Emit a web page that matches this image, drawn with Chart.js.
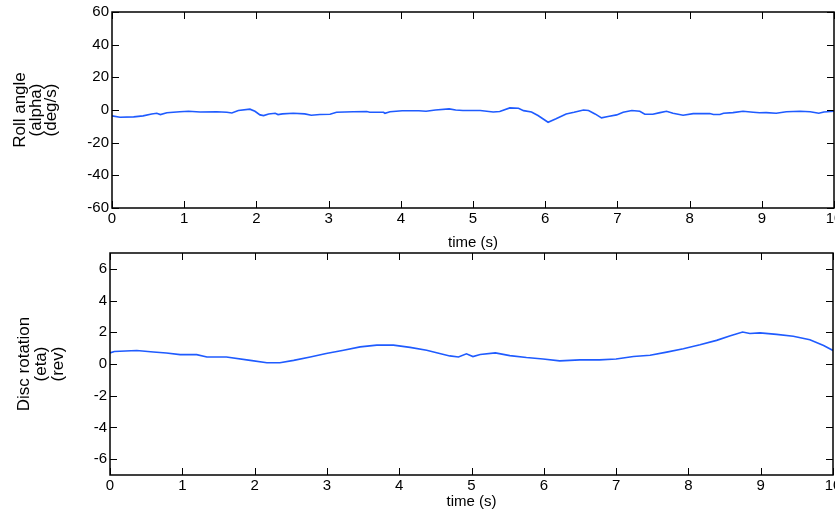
<!DOCTYPE html>
<html>
<head>
<meta charset="utf-8">
<script src="https://cdn.jsdelivr.net/npm/chart.js@4.4.0/dist/chart.umd.min.js"></script>
<style>
  body { margin: 0; background: #fff; }
  #wrap { position: relative; width: 835px; height: 516px; overflow: hidden; }
  .box { position: absolute; left: 0; width: 835px; }
</style>
</head>
<body>
<div id="wrap">
  <div class="box" style="top:0;height:250px"><canvas id="roll"></canvas></div>
  <div class="box" style="top:250px;height:266px"><canvas id="disc"></canvas></div>
</div>
<script>
// MARK: - Data
const timeTicks = [0, 1, 2, 3, 4, 5, 6, 7, 8, 9, 10];

const rollTime = [0.00, 0.11, 0.30, 0.43, 0.55, 0.62, 0.67, 0.76, 0.94, 1.06, 1.22, 1.45, 1.59, 1.66, 1.75, 1.91, 1.98,
  2.05, 2.10, 2.17, 2.26, 2.30, 2.36, 2.51, 2.67, 2.76, 2.88, 3.02, 3.11, 3.34, 3.53, 3.57, 3.76, 3.78, 3.85,
  4.02, 4.25, 4.35, 4.48, 4.67, 4.76, 4.86, 5.10, 5.28, 5.37, 5.51, 5.63, 5.70, 5.81, 5.90, 6.04, 6.15, 6.29,
  6.40, 6.53, 6.60, 6.69, 6.78, 6.87, 6.99, 7.08, 7.20, 7.31, 7.38, 7.49, 7.59, 7.68, 7.77, 7.91, 8.05, 8.28,
  8.33, 8.42, 8.47, 8.60, 8.74, 8.88, 8.97, 9.06, 9.20, 9.34, 9.53, 9.67, 9.79, 9.86, 10.00];
const rollAngle = [-3.6, -4.4, -4.2, -3.6, -2.4, -2.0, -2.8, -1.7, -1.1, -0.8, -1.2, -1.1, -1.4, -1.8, -0.3, 0.5, -0.8,
  -3.0, -3.4, -2.4, -2.0, -2.8, -2.4, -2.0, -2.4, -3.2, -2.8, -2.6, -1.4, -1.1, -0.9, -1.4, -1.4, -2.0, -1.1,
  -0.5, -0.5, -0.8, 0.0, 0.7, 0.0, -0.3, -0.3, -1.2, -0.9, 1.3, 1.1, -0.4, -1.2, -3.4, -7.5, -5.4, -2.4,
  -1.4, 0.0, -0.3, -2.4, -4.8, -4.0, -3.0, -1.4, -0.3, -0.8, -2.6, -2.6, -1.6, -0.8, -2.0, -3.2, -2.2, -2.2,
  -2.8, -2.8, -2.0, -1.6, -0.8, -1.4, -1.7, -1.6, -2.0, -1.1, -0.8, -1.1, -2.0, -1.2, -0.8];
const rollTicks = [-60, -40, -20, 0, 20, 40, 60];

const discTime = [0.00, 0.06, 0.37, 0.60, 0.78, 0.97, 1.20, 1.34, 1.61, 1.94, 2.17, 2.35, 2.54, 2.77, 2.99, 3.23,
  3.46, 3.69, 3.92, 4.15, 4.38, 4.56, 4.70, 4.82, 4.93, 5.02, 5.12, 5.33, 5.53, 5.76, 5.99, 6.22, 6.50, 6.77,
  7.00, 7.24, 7.47, 7.70, 7.93, 8.16, 8.39, 8.57, 8.75, 8.85, 8.99, 9.22, 9.45, 9.68, 9.87, 10.00];
const discRotation = [0.70, 0.79, 0.85, 0.76, 0.69, 0.59, 0.59, 0.44, 0.44, 0.23, 0.08, 0.08, 0.23, 0.44, 0.66, 0.87,
  1.08, 1.19, 1.19, 1.05, 0.87, 0.66, 0.51, 0.44, 0.64, 0.47, 0.60, 0.70, 0.53, 0.41, 0.32, 0.20, 0.26, 0.26,
  0.32, 0.47, 0.55, 0.75, 0.96, 1.21, 1.49, 1.77, 2.02, 1.92, 1.96, 1.87, 1.75, 1.53, 1.17, 0.85];
const discTicks = [-6, -4, -2, 0, 2, 4, 6];

// MARK: - Look
const fontFamily = "'Liberation Sans', Arial, sans-serif";
const tickFont = { family: fontFamily, size: 15 };
const lineColor = '#1f5bff';

// draws the matlab style box with inward ticks on all four sides
const boxTicks = {
  id: 'boxTicks',
  afterDatasetsDraw(chart) {
    const ctx = chart.ctx;
    const a = chart.chartArea;
    const xs = chart.scales.x;
    const ys = chart.scales.y;
    const len = 7;
    ctx.save();
    ctx.strokeStyle = '#000';
    ctx.lineWidth = 1;
    ctx.beginPath();
    xs.ticks.forEach(function(t) {
      let px = Math.round(xs.getPixelForValue(t.value)) + 0.5;
      ctx.moveTo(px, a.bottom); ctx.lineTo(px, a.bottom - len);
      ctx.moveTo(px, a.top); ctx.lineTo(px, a.top + len);
    });
    ys.ticks.forEach(function(t) {
      let py = Math.round(ys.getPixelForValue(t.value)) + 0.5;
      ctx.moveTo(a.left, py); ctx.lineTo(a.left + len, py);
      ctx.moveTo(a.right, py); ctx.lineTo(a.right - len, py);
    });
    ctx.stroke();
    ctx.lineWidth = 1.5;
    ctx.strokeRect(a.left, a.top, a.right - a.left, a.bottom - a.top);
    ctx.restore();
  }
};

function noPadding(s) {
  s.paddingLeft = 0;
  s.paddingRight = 0;
  s.paddingTop = 0;
  s.paddingBottom = 0;
}

function makeChart(id, times, values, yTicks, yMin, yMax, yTitle, geo) {
  const points = times.map(function(t, i) { return { x: t, y: values[i] }; });
  return new Chart(document.getElementById(id), {
    type: 'line',
    data: {
      datasets: [{
        data: points,
        borderColor: lineColor,
        borderWidth: 1.6,
        pointRadius: 0,
        tension: 0,
        fill: false
      }]
    },
    options: {
      responsive: true,
      maintainAspectRatio: false,
      animation: false,
      layout: { autoPadding: false, padding: { top: geo.top, right: geo.right, left: 0, bottom: 0 } },
      plugins: { legend: { display: false }, tooltip: { enabled: false } },
      scales: {
        x: {
          type: 'linear',
          min: 0,
          max: 10,
          afterBuildTicks: function(s) { s.ticks = timeTicks.map(function(v) { return { value: v }; }); },
          afterFit: function(s) { s.height = geo.xHeight; noPadding(s); },
          grid: { display: false, drawTicks: false },
          border: { display: false },
          ticks: { color: '#000', font: tickFont, padding: 2, maxRotation: 0, autoSkip: false },
          title: { display: true, text: 'time (s)', color: '#000', font: { family: fontFamily, size: 15, lineHeight: 1.0 }, padding: { top: 0, bottom: geo.xTitlePad } }
        },
        y: {
          type: 'linear',
          min: yMin,
          max: yMax,
          afterBuildTicks: function(s) { s.ticks = yTicks.map(function(v) { return { value: v }; }); },
          afterFit: function(s) { s.width = geo.left; noPadding(s); },
          grid: { display: false, drawTicks: false },
          border: { display: false },
          ticks: { color: '#000', font: tickFont, padding: 3, autoSkip: false },
          title: { display: true, text: yTitle, color: '#000', font: { family: fontFamily, size: 17, lineHeight: geo.titleLine }, padding: { top: geo.titlePad, bottom: 0 } }
        }
      }
    },
    plugins: [boxTicks]
  });
}

makeChart('roll', rollTime, rollAngle, rollTicks, -60, 60, ['Roll angle', '(alpha)', '(deg/s)'],
  { top: 12, right: 1, left: 112, xHeight: 42, xTitlePad: 0, titleLine: '15.5px', titlePad: 13 });
makeChart('disc', discTime, discRotation, discTicks, -7, 7, ['Disc rotation', '(eta)', '(rev)'],
  { top: 3, right: 2, left: 110, xHeight: 41, xTitlePad: 7, titleLine: '17px', titlePad: 15.5 });
</script>
</body>
</html>
